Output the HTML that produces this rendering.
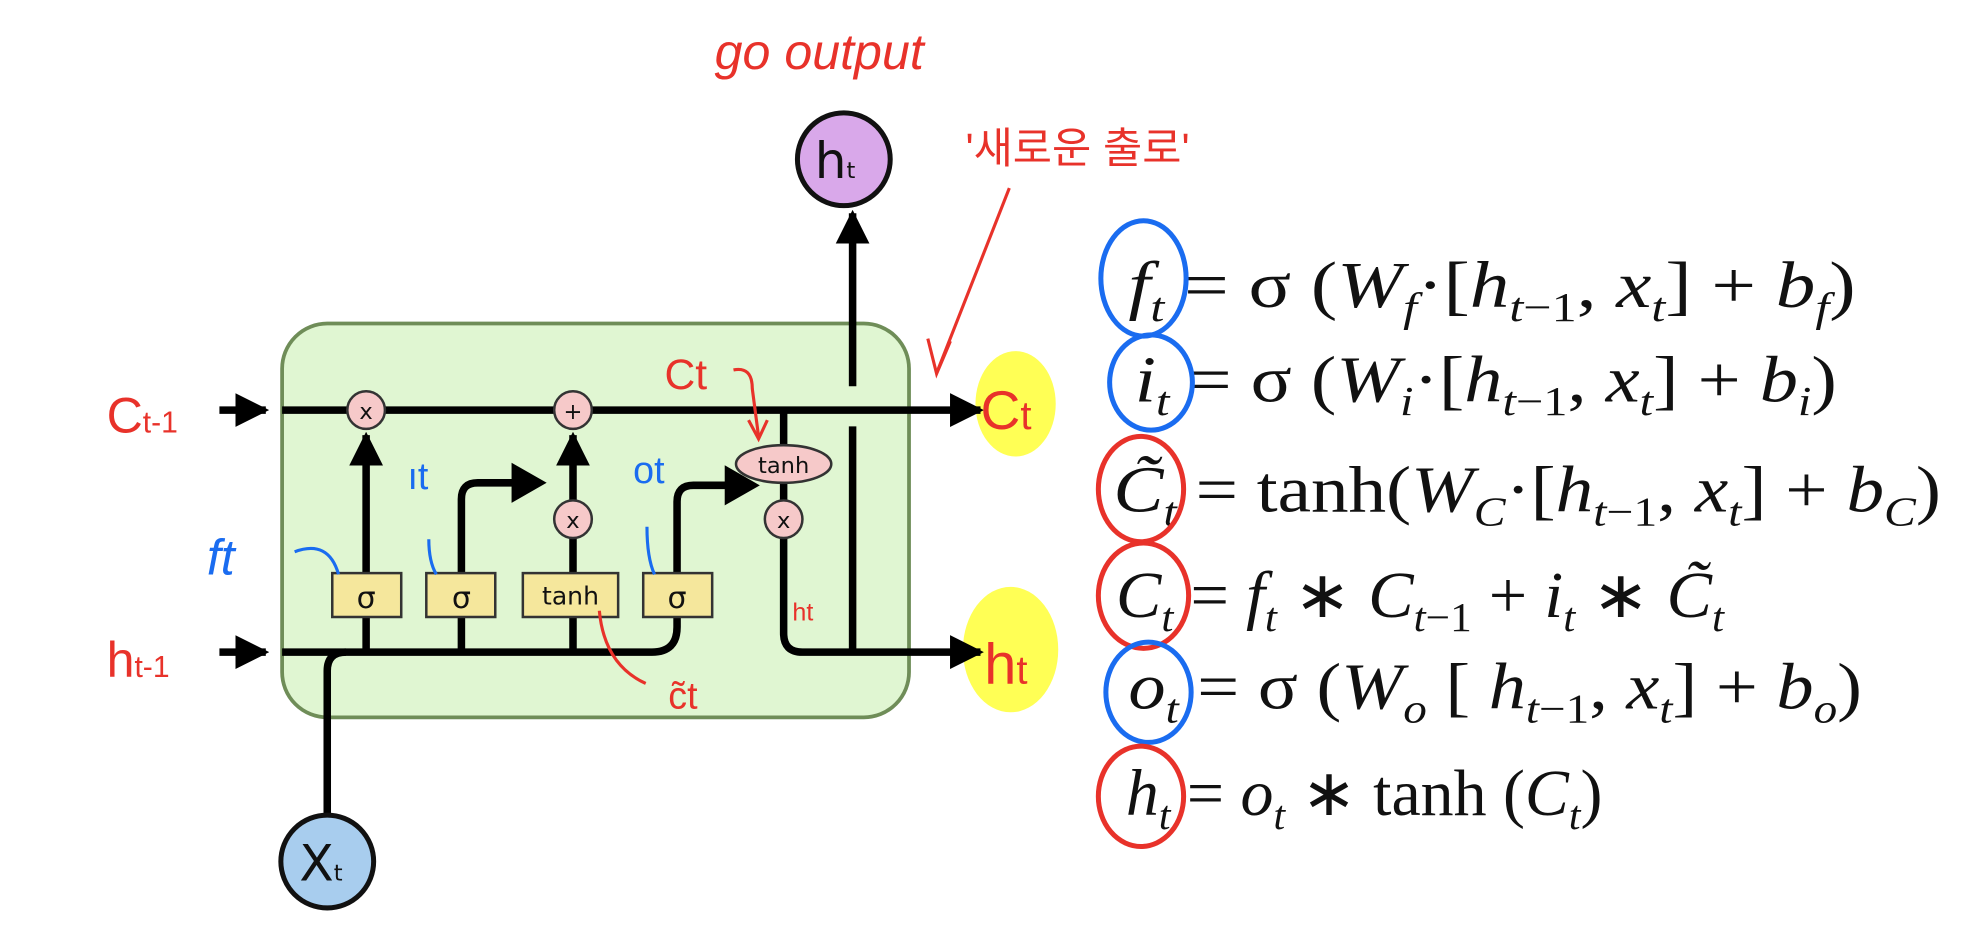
<!DOCTYPE html>
<html><head><meta charset="utf-8"><style>
html,body{margin:0;padding:0;background:#fff;width:1966px;height:928px;overflow:hidden}
svg{display:block}
.m{font-family:"Liberation Serif",serif;font-size:52px;fill:#111}
.i{font-style:italic}
.s{font-size:33px}
.hand{font-family:"Liberation Sans","Noto Sans CJK KR",sans-serif;}
</style></head><body>
<svg width="1966" height="928" viewBox="0 0 1568 740" preserveAspectRatio="none" xmlns="http://www.w3.org/2000/svg">
<defs>
<marker id="ah" viewBox="0 0 10 10" refX="9" refY="5" markerWidth="4.5" markerHeight="4.5" orient="auto-start-reverse" markerUnits="strokeWidth"><path d="M0,0 L10,5 L0,10 z" fill="#000"/></marker>
</defs>
<ellipse cx="810" cy="322" rx="32" ry="42" fill="#ffff55"/>
<ellipse cx="806" cy="518" rx="38" ry="50" fill="#ffff55"/>
<rect x="225" y="258" width="500" height="314" rx="36" fill="#e0f6d2" stroke="#6f8d58" stroke-width="3"/>
<g stroke="#000" stroke-width="6" fill="none">
<line x1="175" y1="327" x2="212" y2="327" marker-end="url(#ah)"/>
<line x1="225" y1="327" x2="782" y2="327" marker-end="url(#ah)"/>
<line x1="175" y1="520" x2="212" y2="520" marker-end="url(#ah)"/>
<path d="M225,520 H520 Q540,520 540,500 V475"/>
<path d="M261,650 V535 Q261,520 276,520"/>
<line x1="292" y1="492" x2="292" y2="347" marker-end="url(#ah)"/>
<line x1="292" y1="520" x2="292" y2="492"/>
<line x1="368" y1="520" x2="368" y2="490"/>
<path d="M368,475 V398 Q368,385 381,385 H410" />
<line x1="457" y1="520" x2="457" y2="490"/>
<line x1="457" y1="460" x2="457" y2="429"/>
<line x1="457" y1="400" x2="457" y2="347" marker-end="url(#ah)"/>
<line x1="540" y1="475" x2="540" y2="458"/>
<path d="M540,458 V400 Q540,387 553,387 H580"/>
<line x1="625" y1="327" x2="625" y2="355"/>
<line x1="625" y1="385" x2="625" y2="400"/>
<path d="M625,429 V505 Q625,520 640,520 H782" marker-end="url(#ah)"/>
<line x1="680" y1="520" x2="680" y2="340"/>
<line x1="680" y1="308" x2="680" y2="170" marker-end="url(#ah)"/>
</g>
<path d="M408,369 L436,385 L408,401 z" fill="#000"/>
<path d="M578,371 L606,387 L578,403 z" fill="#000"/>
<g stroke="#333" stroke-width="2" fill="#f5e79c">
<rect x="265" y="457" width="55" height="35"/>
<rect x="340" y="457" width="55" height="35"/>
<rect x="417" y="457" width="76" height="35"/>
<rect x="513" y="457" width="55" height="35"/>
</g>
<g font-family="DejaVu Sans,sans-serif" text-anchor="middle" fill="#111">
<text x="292" y="485" font-size="24">σ</text>
<text x="368" y="485" font-size="24">σ</text>
<text x="455" y="482" font-size="20">tanh</text>
<text x="540" y="485" font-size="24">σ</text>
</g>
<g stroke="#333" stroke-width="2" fill="#f6c9c9">
<circle cx="292" cy="327" r="15"/><circle cx="457" cy="327" r="15"/>
<circle cx="457" cy="414" r="15"/><circle cx="625" cy="414" r="15"/>
<ellipse cx="625" cy="370" rx="38" ry="15"/>
</g>
<g font-family="DejaVu Sans,sans-serif" text-anchor="middle" fill="#111" font-size="18">
<text x="292" y="334">x</text><text x="457" y="334">+</text>
<text x="457" y="421">x</text><text x="625" y="421">x</text>
<text x="625" y="377">tanh</text>
</g>
<circle cx="673" cy="127" r="37" fill="#d9a8ea" stroke="#111" stroke-width="4"/>
<text x="666" y="142" font-family="DejaVu Sans,sans-serif" font-size="40" text-anchor="middle" fill="#111">h<tspan font-size="18">t</tspan></text>
<circle cx="261" cy="687" r="37" fill="#a8cdee" stroke="#111" stroke-width="4"/>
<text x="256" y="702" font-family="DejaVu Sans,sans-serif" font-size="40" text-anchor="middle" fill="#111">X<tspan font-size="18">t</tspan></text>

<g fill="#e8322a" class="hand">
<text x="570" y="55" font-size="40" font-style="italic">go output</text>
<text x="770" y="130" font-size="34">'새로운 출로'</text>
<text x="85" y="345" font-size="40">C<tspan font-size="24">t-1</tspan></text>
<text x="85" y="540" font-size="40">h<tspan font-size="24">t-1</tspan></text>
<text x="782" y="342" font-size="44">C<tspan font-size="32">t</tspan></text>
<text x="785" y="545" font-size="46">h<tspan font-size="32">t</tspan></text>
<text x="530" y="310" font-size="34">Ct</text>
<text x="632" y="495" font-size="20">ht</text>
<text x="533" y="565" font-size="30">c̃t</text>
</g>
<g stroke="#e8322a" stroke-width="2.5" fill="none">
<path d="M805,150 L748,295"/><path d="M740,270 L747,298 L758,272"/>
<path d="M585,295 Q600,292 600,310 L605,348"/><path d="M597,335 L605,350 L612,335"/>
<path d="M478,487 Q482,530 515,545"/>
</g>
<g fill="#1a6cf0" class="hand">
<text x="165" y="458" font-size="40" font-style="italic">ft</text>
<text x="325" y="390" font-size="30">ıt</text>
<text x="505" y="385" font-size="30">ot</text>
</g>
<g stroke="#1a6cf0" stroke-width="2.5" fill="none">
<path d="M235,440 Q262,430 270,458"/>
<path d="M342,430 Q342,448 348,458"/>
<path d="M516,420 Q516,445 522,458"/>
</g>

<g class="m">
<text x="900" y="245" textLength="580" lengthAdjust="spacingAndGlyphs"><tspan class="i">f</tspan><tspan class="i s" dy="11">t</tspan><tspan dy="-11"> = σ (</tspan><tspan class="i">W</tspan><tspan class="i s" dy="11">f</tspan><tspan dy="-11">·[</tspan><tspan class="i">h</tspan><tspan class="s" dy="11"><tspan class="i">t</tspan>−1</tspan><tspan dy="-11">, </tspan><tspan class="i">x</tspan><tspan class="i s" dy="11">t</tspan><tspan dy="-11">]  +  </tspan><tspan class="i">b</tspan><tspan class="i s" dy="11">f</tspan><tspan dy="-11">)</tspan></text>
<text x="905" y="320" textLength="560" lengthAdjust="spacingAndGlyphs"><tspan class="i">i</tspan><tspan class="i s" dy="11">t</tspan><tspan dy="-11"> = σ (</tspan><tspan class="i">W</tspan><tspan class="i s" dy="11">i</tspan><tspan dy="-11">·[</tspan><tspan class="i">h</tspan><tspan class="s" dy="11"><tspan class="i">t</tspan>−1</tspan><tspan dy="-11">, </tspan><tspan class="i">x</tspan><tspan class="i s" dy="11">t</tspan><tspan dy="-11">]  +  </tspan><tspan class="i">b</tspan><tspan class="i s" dy="11">i</tspan><tspan dy="-11">)</tspan></text>
<text x="888" y="408" textLength="660" lengthAdjust="spacingAndGlyphs"><tspan class="i">C̃</tspan><tspan class="i s" dy="11">t</tspan><tspan dy="-11"> = tanh(</tspan><tspan class="i">W</tspan><tspan class="i s" dy="11">C</tspan><tspan dy="-11">·[</tspan><tspan class="i">h</tspan><tspan class="s" dy="11"><tspan class="i">t</tspan>−1</tspan><tspan dy="-11">, </tspan><tspan class="i">x</tspan><tspan class="i s" dy="11">t</tspan><tspan dy="-11">]  +  </tspan><tspan class="i">b</tspan><tspan class="i s" dy="11">C</tspan><tspan dy="-11">)</tspan></text>
<text x="890" y="492" textLength="485" lengthAdjust="spacingAndGlyphs"><tspan class="i">C</tspan><tspan class="i s" dy="11">t</tspan><tspan dy="-11"> = </tspan><tspan class="i">f</tspan><tspan class="i s" dy="11">t</tspan><tspan dy="-11"> ∗ </tspan><tspan class="i">C</tspan><tspan class="s" dy="11"><tspan class="i">t</tspan>−1</tspan><tspan dy="-11"> + </tspan><tspan class="i">i</tspan><tspan class="i s" dy="11">t</tspan><tspan dy="-11"> ∗ </tspan><tspan class="i">C̃</tspan><tspan class="i s" dy="11">t</tspan></text>
<text x="900" y="565" textLength="585" lengthAdjust="spacingAndGlyphs"><tspan class="i">o</tspan><tspan class="i s" dy="11">t</tspan><tspan dy="-11"> = σ (</tspan><tspan class="i">W</tspan><tspan class="i s" dy="11">o</tspan><tspan dy="-11">  [ </tspan><tspan class="i">h</tspan><tspan class="s" dy="11"><tspan class="i">t</tspan>−1</tspan><tspan dy="-11">, </tspan><tspan class="i">x</tspan><tspan class="i s" dy="11">t</tspan><tspan dy="-11">]  +  </tspan><tspan class="i">b</tspan><tspan class="i s" dy="11">o</tspan><tspan dy="-11">)</tspan></text>
<text x="898" y="650" textLength="380" lengthAdjust="spacingAndGlyphs"><tspan class="i">h</tspan><tspan class="i s" dy="11">t</tspan><tspan dy="-11"> = </tspan><tspan class="i">o</tspan><tspan class="i s" dy="11">t</tspan><tspan dy="-11"> ∗ tanh (</tspan><tspan class="i">C</tspan><tspan class="i s" dy="11">t</tspan><tspan dy="-11">)</tspan></text>
</g>
<g fill="none" stroke-width="4">
<ellipse cx="912" cy="222" rx="34" ry="46" stroke="#1a6cf0"/>
<ellipse cx="918" cy="305" rx="33" ry="38" stroke="#1a6cf0"/>
<ellipse cx="910" cy="390" rx="34" ry="42" stroke="#e8322a"/>
<ellipse cx="912" cy="475" rx="36" ry="42" stroke="#e8322a"/>
<ellipse cx="916" cy="552" rx="34" ry="40" stroke="#1a6cf0"/>
<ellipse cx="910" cy="635" rx="34" ry="40" stroke="#e8322a"/>
</g>
</svg>
</body></html>
